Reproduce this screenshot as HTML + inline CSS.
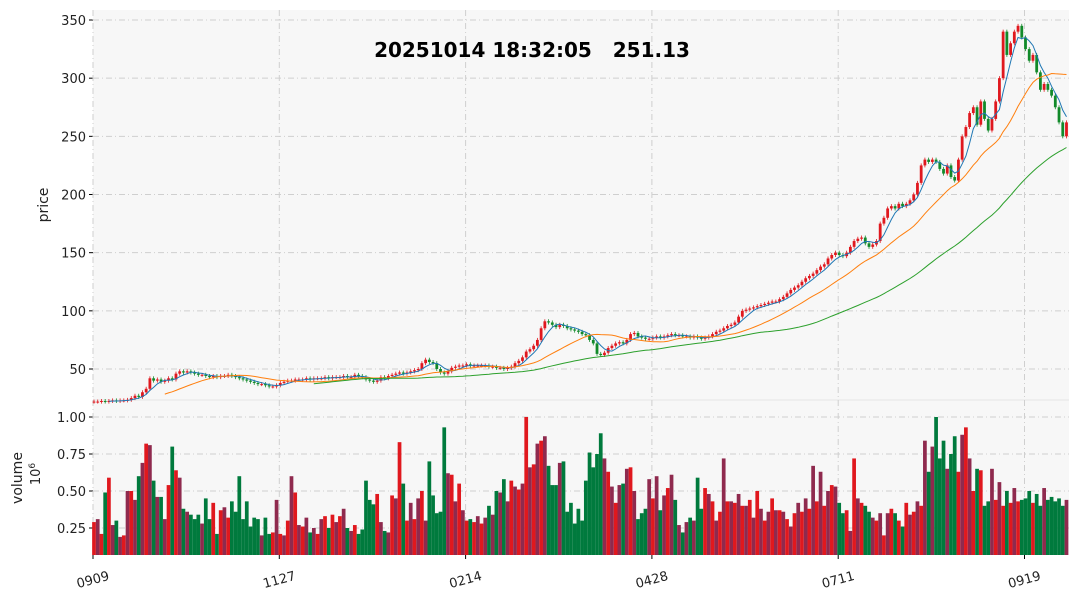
<!DOCTYPE html>
<html><head><meta charset="utf-8">
<style>
body{margin:0;background:#fff;font-family:"DejaVu Sans",sans-serif;}
svg text{font-family:"DejaVu Sans","Liberation Sans",sans-serif;}
</style></head>
<body>
<svg id="chart" width="1077" height="598" xmlns="http://www.w3.org/2000/svg"></svg>
<script>
const closes=[22,22,22.5,22,22.5,23,22.5,23,23,23.5,
25,27,26,30,33,42,40,41,39,40,
42,41,46,48,47,48,47,46,45,45,
44,43,44,43,44,44,45,44,43,42,
41,40,39,38,37,37,36,35,35,36,
38,39,40,40,41,41,41,42,41,42,
42,42,43,42,43,43,43,44,43,43,
45,44,43,41,40,39,40,43,42,44,
45,46,47,46,47,48,49,50,55,58,
56,55,50,47,46,48,51,52,53,53,
54,53,53,53,53,53,52,52,51,51,
50,51,52,55,57,60,65,67,70,75,
85,91,90,88,86,88,87,85,84,83,
82,80,79,75,72,63,62,64,68,70,
72,73,72,75,80,81,78,77,76,76,
77,78,77,78,79,80,79,79,78,78,
77,78,77,76,77,78,80,82,83,85,
87,88,90,95,100,101,102,103,104,105,
106,107,108,108,110,112,115,118,120,122,
125,128,130,132,135,138,140,145,148,150,
148,147,150,155,160,162,163,158,155,157,
160,175,180,188,190,188,192,190,192,195,
200,210,225,230,228,230,228,222,218,225,
215,212,230,250,258,270,275,260,280,265,
255,265,280,300,340,320,330,340,345,335,
325,315,320,305,290,295,290,285,275,262,
250,262];
const volumes=[0.29,0.31,0.21,0.49,0.59,0.27,0.30,0.19,0.20,0.5,
0.5,0.44,0.6,0.69,0.82,0.81,0.57,0.46,0.46,0.31,
0.54,0.80,0.64,0.59,0.38,0.36,0.34,0.31,0.34,0.28,
0.45,0.31,0.42,0.21,0.37,0.39,0.32,0.43,0.36,0.60,
0.31,0.43,0.26,0.32,0.31,0.20,0.32,0.21,0.22,0.44,
0.21,0.20,0.30,0.60,0.49,0.27,0.26,0.32,0.22,0.25,
0.21,0.31,0.33,0.25,0.34,0.29,0.33,0.38,0.25,0.23,
0.27,0.21,0.24,0.57,0.44,0.41,0.48,0.29,0.23,0.22,
0.47,0.45,0.83,0.55,0.30,0.42,0.31,0.45,0.50,0.30,0.70,0.47,0.35,0.36,0.93,0.62,0.61,0.43,0.55,0.37,0.30,
0.31,0.29,0.33,0.28,0.32,0.40,0.34,0.50,0.49,0.58,0.43,0.57,0.53,0.51,0.55,1.0,0.66,0.68,0.82,0.84,
0.87,0.67,0.54,0.54,0.69,0.70,0.36,0.42,0.28,0.38,0.30,0.57,0.76,0.66,0.75,0.89,0.72,0.63,0.53,0.42,
0.54,0.55,0.65,0.66,0.50,0.31,0.35,0.38,0.58,0.45,0.60,0.37,0.47,0.52,0.61,0.44,0.27,0.22,0.29,0.32,
0.30,0.59,0.38,0.52,0.48,0.43,0.30,0.36,0.72,0.43,0.43,0.42,0.48,0.40,0.40,0.44,0.32,0.50,0.38,0.30,
0.36,0.45,0.37,0.37,0.36,0.31,0.26,0.35,0.42,0.36,0.45,0.38,0.67,0.43,0.63,0.40,0.50,0.54,0.53,0.42,
0.35,0.37,0.23,0.72,0.45,0.42,0.40,0.36,0.32,0.30,0.35,0.20,0.35,0.38,0.35,0.30,0.26,0.42,0.34,0.36,
0.43,0.40,0.84,0.63,0.80,1.0,0.72,0.84,0.65,0.75,0.87,0.63,0.88,0.93,0.72,0.50,0.65,0.64,0.40,0.43,
0.65,0.44,0.56,0.40,0.50,0.42,0.52,0.43,0.44,0.45,0.50,0.42,0.48,0.40,0.52,0.44,0.46,0.43,0.45,0.40,0.44];
const priceTicks=[50,100,150,200,250,300,350];
const volTicks=[0.25,0.50,0.75,1.00];
const xTickLabels=["0909","1127","0214","0428","0711","0919"];
const xTickIndex=[0,50,100,150,200,250];
const maPeriods=[5,20,60];
const maColors=["#1f77b4","#ff7f0e","#2ca02c"];

const NS="http://www.w3.org/2000/svg";
const svg=document.getElementById('chart');
function mk(tag,attrs,parent){const e=document.createElementNS(NS,tag);for(const k in attrs)e.setAttribute(k,attrs[k]);(parent||svg).appendChild(e);return e;}
const L=93,R=1069,PT=10,PB=400,VT=400,VB=555;
const step=3.726;
const xOf=i=>94+i*step;
const yP=v=>369-(v-50)*1.1633;
const yV=v=>417-(v-1)*148;

let p=mk('rect',{x:L,y:PT,width:R-L,height:PB-PT,fill:'#f7f7f7'});


p=mk('rect',{x:L,y:VT,width:R-L,height:VB-VT,fill:'#f7f7f7'});


mk('line',{x1:L,y1:400,x2:R,y2:400,stroke:'#e4e4e4','stroke-width':1});

const gridStyle={stroke:'#cfcfcf','stroke-width':1,'stroke-dasharray':'6,3,1,3'};
priceTicks.forEach(t=>{
  const y=yP(t);
  const g=mk('line',Object.assign({x1:L,y1:y,x2:R,y2:y},gridStyle));
  
  
  mk('line',{x1:L-4,y1:y,x2:L,y2:y,stroke:'#000'});
  const tx=mk('text',{x:L-7,y:y+5,'text-anchor':'end','font-size':13,fill:'#222'});
  tx.textContent=t;
  
  
});
volTicks.forEach(t=>{
  const y=yV(t);
  const g=mk('line',Object.assign({x1:L,y1:y,x2:R,y2:y},gridStyle));
  
  
  mk('line',{x1:L-4,y1:y,x2:L,y2:y,stroke:'#000'});
  const tx=mk('text',{x:L-7,y:y+5,'text-anchor':'end','font-size':13,fill:'#222'});
  tx.textContent=t.toFixed(2);
  
  
});
xTickIndex.forEach((idx,k)=>{
  const x=xOf(idx)-1;
  const g=mk('line',Object.assign({x1:x,y1:PT,x2:x,y2:VB},gridStyle));
  
  
  mk('line',{x1:x,y1:VB,x2:x,y2:VB+4,stroke:'#000'});
  const tx=mk('text',{x:x,y:584,'text-anchor':'middle','font-size':13,fill:'#222',transform:`rotate(-15 ${x} 580)`});
  tx.textContent=xTickLabels[k];
  
  
});

const vw=step;
volumes.forEach((v,i)=>{
  const up=i===0?true:closes[i]>=closes[i-1];
  const y=yV(v);
  const b=mk('rect',{x:xOf(i)-vw/2,y:y,width:vw,height:VB-y,fill:up?(i%2?'#8f2a4e':'#e0181e'):'#007a3d'});
  
  
});

closes.forEach((c,i)=>{
  const o=i===0?c:closes[i-1];
  const up=c>=o;
  const col=up?'#e0181e':'#128a2a';
  const y1=yP(Math.max(o,c)),y2=yP(Math.min(o,c));
  const w=mk('line',{x1:xOf(i),y1:y1-2,x2:xOf(i),y2:y2+2,stroke:col,'stroke-width':0.8});
  
  
  const b=mk('rect',{x:xOf(i)-1.4,y:y1,width:2.8,height:Math.max(1,y2-y1),fill:col});
  
  
});

maPeriods.forEach((n,k)=>{
  const pts=[];
  for(let i=n-1;i<closes.length;i++){
    let s=0;for(let j=i-n+1;j<=i;j++)s+=closes[j];
    pts.push(xOf(i).toFixed(1)+','+yP(s/n).toFixed(1));
  }
  const pl=mk('polyline',{points:pts.join(' '),fill:'none',stroke:maColors[k],'stroke-width':1});
  
  
});

let t=mk('text',{x:532,y:57,'text-anchor':'middle','font-size':20,'font-weight':'bold',fill:'#000',style:'white-space:pre'});
t.textContent='20251014 18:32:05\u00a0\u00a0\u00a0251.13';


t=mk('text',{x:48,y:205,'text-anchor':'middle','font-size':14,fill:'#222',transform:'rotate(-90 48 205)'});
t.textContent='price';


t=mk('text',{x:22,y:478,'text-anchor':'middle','font-size':14,fill:'#222',transform:'rotate(-90 22 478)'});
t.textContent='volume';


t=mk('text',{x:40,y:474,'text-anchor':'middle','font-size':13,fill:'#222',transform:'rotate(-90 40 474)'});
t.innerHTML='10<tspan dy="-5" font-size="9">6</tspan>';


</script>
</body></html>
